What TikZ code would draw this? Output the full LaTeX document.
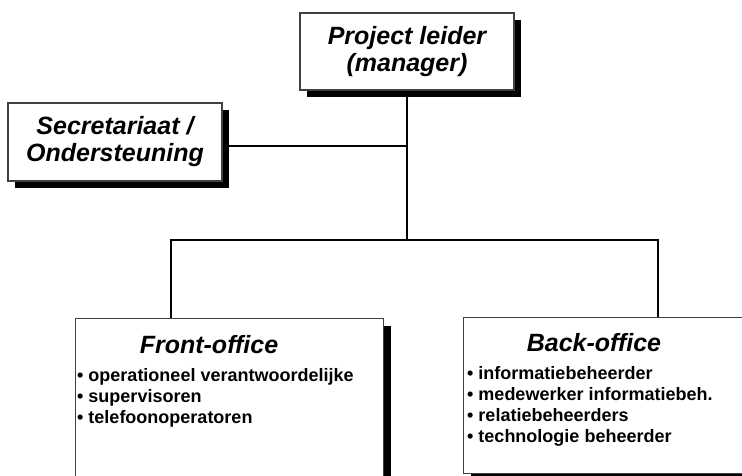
\documentclass[tikz,border=0pt]{standalone}
\usepackage{fontspec}
\setmainfont{Liberation Sans}
\usetikzlibrary{shadows}
\begin{document}
\begin{tikzpicture}[x=1pt, y=-1pt,
        box/.style={rectangle, draw=black!75, line width=1.1pt, fill=white,
            drop shadow={shadow xshift=7pt, shadow yshift=-7pt, opacity=1, fill=black}},
        head/.style={align=center, inner sep=0pt, font=\fontsize{25}{27}\selectfont\bfseries\itshape},
        lst/.style={anchor=north west, align=left, inner sep=0pt, font=\fontsize{18}{21}\selectfont\bfseries},
        wire/.style={line width=2.6pt}
    ]
    \useasboundingbox (0,0) rectangle (742,475);
    \node[box, minimum width=214pt, minimum height=77pt] (mgr) at (407,51.5) {};
    \node[head] (mgrtxt) at (mgr.center) {Project leider\\(manager)};
    \node[box, minimum width=214pt, minimum height=78pt] (secr) at (115,142) {};
    \node[head] (secrtxt) at (secr.center) {Secretariaat /\\Ondersteuning};
    \node[box, anchor=north west, minimum width=308pt, minimum height=176pt] (fo) at (75,318) {};
    \node[box, anchor=north west, minimum width=310pt, minimum height=156pt] (bo) at (463,317) {};
    \node[head] (fohead) at (209,345) {Front-office};
    \node[lst] (folist) at (77,368) {• operationeel verantwoordelijke\\• supervisoren\\• telefoonoperatoren};
    \node[head] (bohead) at (594,343) {Back-office};
    \node[lst] (bolist) at (467,366) {• informatiebeheerder\\• medewerker informatiebeh.\\• relatiebeheerders\\• technologie beheerder};
    % connectors
    \coordinate (split) at (407,240);
    \draw[wire] (mgr.south) -- (split);
    \draw[wire] ([yshift=-4pt]secr.east) -- ([yshift=-4pt]secr.east -| mgr.south);
    \draw[wire] ([xshift=96pt]fo.north west) |- (split) -| ([xshift=195pt]bo.north west);
\end{tikzpicture}
\end{document}
